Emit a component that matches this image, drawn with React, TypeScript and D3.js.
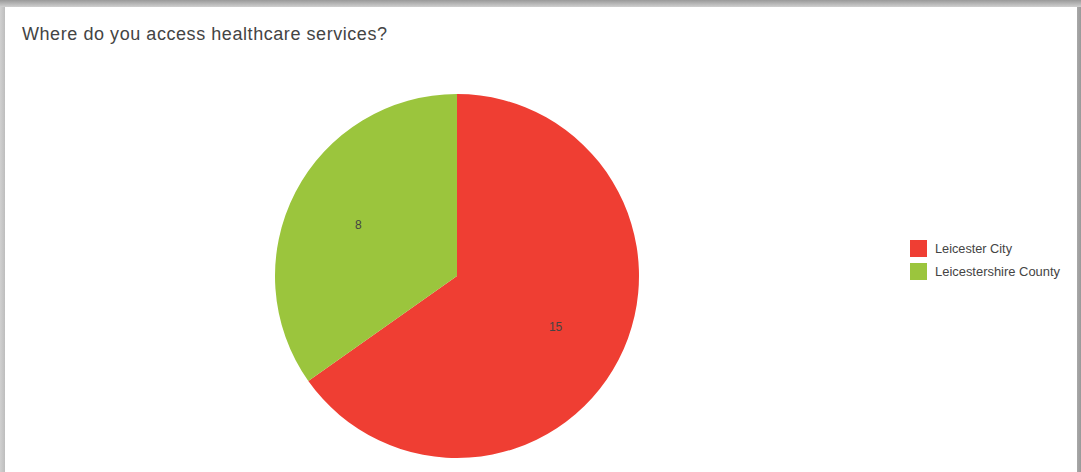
import React from "react";
import * as d3 from "d3";

const categories = ["Leicester City", "Leicestershire County"];
const values = [15, 8];
const colors = ["#EF3E33", "#9BC53D"];
const title = "Where do you access healthcare services?";
const legendWidths = [77, 125];

const W = 1081;
const H = 472;

export default function App() {
  const cx = 457;
  const cy = 276;
  const r = 182;
  const pie = d3.pie<number>().sort(null).value((d) => d)(values);
  const arc = d3.arc<d3.PieArcDatum<number>>().innerRadius(0).outerRadius(r);
  const labelArc = d3
    .arc<d3.PieArcDatum<number>>()
    .innerRadius(r * 0.61)
    .outerRadius(r * 0.61);

  return (
    <svg
      width={W}
      height={H}
      style={{ position: "absolute", left: 0, top: 0, display: "block" }}
      fontFamily="'Liberation Sans', Arial, sans-serif"
    >
      <defs>
        <linearGradient id="topShadow" x1="0" y1="0" x2="0" y2="1">
          <stop offset="0" stopColor="#9a9a9a" />
          <stop offset="1" stopColor="#cfcfcf" />
        </linearGradient>
        <linearGradient id="leftShadow" x1="0" y1="0" x2="1" y2="0">
          <stop offset="0" stopColor="#d0d0d0" />
          <stop offset="1" stopColor="#bdbdbd" />
        </linearGradient>
        <linearGradient id="rightShadow" x1="0" y1="0" x2="1" y2="0">
          <stop offset="0" stopColor="#a8a8a8" />
          <stop offset="1" stopColor="#9a9a9a" />
        </linearGradient>
      </defs>
      <rect x={0} y={0} width={W} height={H} fill="#ffffff" />
      <rect x={0} y={0} width={W} height={7} fill="url(#topShadow)" />
      <rect x={0} y={7} width={5} height={H - 7} fill="url(#leftShadow)" />
      <rect x={1077} y={7} width={4} height={H - 7} fill="url(#rightShadow)" />

      <text
        x={22}
        y={40}
        fontSize={18}
        fill="#444444"
        textLength={365}
        lengthAdjust="spacing"
      >
        {title}
      </text>

      <g transform={`translate(${cx},${cy})`}>
        {pie.map((d, i) => (
          <path key={i} d={arc(d) || ""} fill={colors[i]} />
        ))}
        {pie.map((d, i) => {
          const [lx, ly] = labelArc.centroid(d);
          return (
            <text
              key={"l" + i}
              x={lx}
              y={ly}
              fontSize={12}
              fill="#444444"
              textAnchor="middle"
              dominantBaseline="central"
            >
              {values[i]}
            </text>
          );
        })}
      </g>

      <g>
        {categories.map((c, i) => (
          <g key={c} transform={`translate(910,${240 + i * 23})`}>
            <rect x={0} y={0} width={17} height={17} fill={colors[i]} />
            <text
              x={25}
              y={9}
              fontSize={12}
              fill="#444444"
              dominantBaseline="central"
              textLength={legendWidths[i]}
              lengthAdjust="spacingAndGlyphs"
            >
              {c}
            </text>
          </g>
        ))}
      </g>
    </svg>
  );
}
